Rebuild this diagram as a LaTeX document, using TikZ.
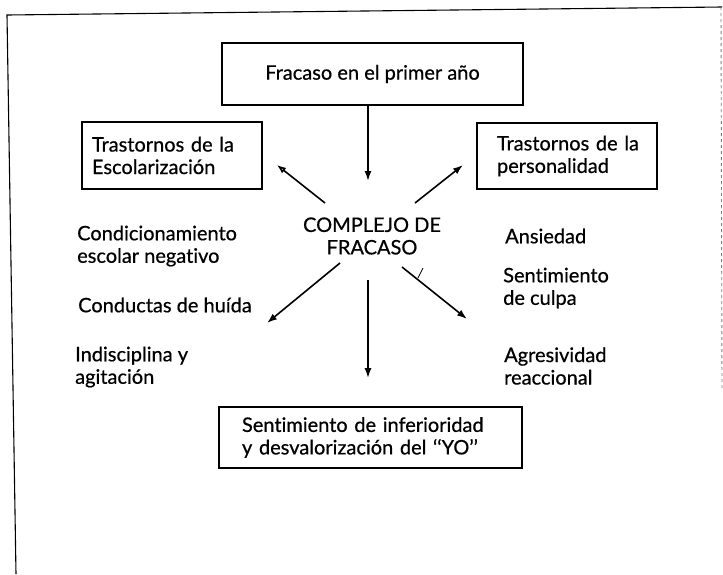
\documentclass[tikz,border=0pt]{standalone}
\usepackage{fontspec}
\setmainfont{Lato}[Ligatures=NoCommon, FakeBold=0.6]
\usetikzlibrary{arrows.meta}
\begin{document}
\begin{tikzpicture}[x=1pt,y=1pt,
  txt/.style={font=\fontsize{20}{22.5}\selectfont, inner sep=0pt, align=left},
  box/.style={draw, line width=1.3pt, font=\fontsize{20}{22.5}\selectfont, align=left, inner ysep=0pt},
  arr/.style={line width=1.6pt, -{Latex[length=10pt,width=7pt]}},
  arropen/.style={line width=1.6pt, -{Latex[open,length=9pt,width=7pt]}}]
\useasboundingbox (0,0) rectangle (723,-574);
% frame
\draw[line width=1.1pt] (16,-574) -- (7,-15) -- (722,-7);
\draw[line width=0.9pt, gray, dashed] (721,-7) -- (722,-390);
% boxes
\node[box, align=center, minimum width=301pt, minimum height=62pt, inner xsep=0pt] (top) at (372.5,-74) {Fracaso en el primer año};
\node[box, text width=160pt, inner xsep=10pt, minimum height=67pt] (esc) at (172,-155.5) {Trastornos~de~la\\Escolarización};
\node[box, text width=140pt, inner xsep=20pt, minimum height=66pt] (per) at (567,-156) {Trastornos~de~la\\personalidad};
\node[box, text width=257pt, inner xsep=23pt, minimum height=61pt] (inf) at (370.5,-437.5) {Sentimiento~de~inferioridad\\y~desvalorización~del~‘‘YO’’};
% center
\node[txt, align=center] (comp) at (372,-236) {COMPLEJO DE\\FRACASO};
% side texts
\node[txt, anchor=west] (cond) at (77,-246) {Condicionamiento\\escolar negativo};
\node[txt, anchor=west] (hui) at (78,-305) {Conductas de huída};
\node[txt, anchor=west] (ind) at (75,-367) {Indisciplina y\\agitación};
\node[txt, anchor=west] (ans) at (505,-236) {Ansiedad};
\node[txt, anchor=west] (sen) at (503,-288) {Sentimiento\\de culpa};
\node[txt, anchor=west] (agr) at (504,-366) {Agresividad\\reaccional};
% connector ends
\coordinate (v1) at (368,-181);
\coordinate (lu0) at (325,-203);
\coordinate (lu1) at (277,-165);
\coordinate (ru0) at (415,-203);
\coordinate (ru1) at (463,-165);
\coordinate (ld0) at (340,-263);
\coordinate (ld1) at (267,-323);
\coordinate (vd0) at (368,-280);
\coordinate (vd1) at (368,-378);
\coordinate (rd0) at (402,-267);
\coordinate (rd1) at (467,-319);
\coordinate (tk0) at (423,-268);
\coordinate (tk1) at (418,-278);
% connectors
\draw[arr] (top.south -| v1) -- (v1);
\draw[arropen] (lu0) -- (lu1);
\draw[arr] (ru0) -- (ru1);
\draw[arr] (ld0) -- (ld1);
\draw[arr] (vd0) -- (vd1);
\draw[arr] (rd0) -- (rd1);
\draw[line width=0.8pt] (tk0) -- (tk1);
\end{tikzpicture}
\end{document}
